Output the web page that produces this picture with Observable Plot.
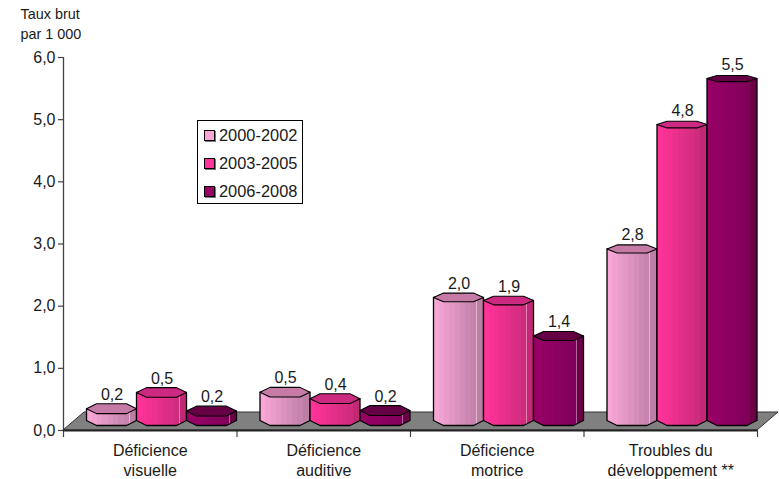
<!DOCTYPE html>
<html lang="fr">
<head>
<meta charset="utf-8">
<title>Taux brut par 1 000</title>
<script src="https://cdn.jsdelivr.net/npm/d3@7"></script>
<script src="https://cdn.jsdelivr.net/npm/@observablehq/plot@0.6"></script>
<style>
html,body{margin:0;padding:0;background:#fff}
#wrap{position:relative;width:779px;height:479px;overflow:hidden;font-family:"Liberation Sans",Arial,sans-serif}
#wrap svg{display:block}
#legend{position:absolute;left:197px;top:120px;width:104px;height:82px;background:#fff;border:1.3px solid #000;color:#1a1a1a;font-size:16.4px}
#legend div{position:absolute;left:21px;line-height:20px;white-space:nowrap}
#legend i{position:absolute;left:-15px;top:5px;width:9px;height:9px;border:1px solid #000;box-shadow:1px 1px 0 #777}
</style>
</head>
<body>
<div id="wrap">
<div id="legend"></div>
</div>
<script>
const categories = ["Déficience\nvisuelle", "Déficience\nauditive", "Déficience\nmotrice", "Troubles du\ndéveloppement **"];
const periods = ["2000-2002", "2003-2005", "2006-2008"];
const values2000 = [0.19, 0.455, 1.98, 2.76];
const values2003 = [0.451, 0.351, 1.93, 4.76];
const values2006 = [0.151, 0.16, 1.36, 5.5];
const yTicks = [0, 1, 2, 3, 4, 5, 6];
const faceLight = ["#f7a6d6", "#ff3399", "#990066"];
const faceDark = ["#c583ad", "#d02c7e", "#80005a"];
const sideColor = ["#bd7ea6", "#c22876", "#6c0047"];
const topColor = ["#c67ba6", "#cc2980", "#660044"];
const series = [values2000, values2003, values2006];

const W = 779, H = 479, ml = 63, mr = 22, mt = 57, mb = 49;
const pxX = 4 / (W - ml - mr), pxY = 6 / (H - mt - mb);
const comma = d3.format(".1f");
const fmt = v => comma(v).replace(".", ",");

const barW = 50 * pxX, barStart = 23.5 * pxX, lift = 9.5 * pxY, frontDrop = 5 * pxY;
const bars = series.flatMap((vals, s) => vals.map((v, c) => {
  const x0 = c + barStart + s * barW, x1 = x0 + barW, chamfer = barW * 0.2;
  return {s, c, v, id: `${s}-${c}`, x0, x1, xa: x0 + chamfer, xb: x1 - chamfer,
          xm: (x0 + x1) / 2, yc: v + lift, hh: (5 - 0.35 * v) * pxY};
}));
const bodyPts = bars.flatMap(b => [
  {id: b.id, s: b.s, c: b.c, x: b.x0, t: b.yc, e: lift},
  {id: b.id, s: b.s, c: b.c, x: b.xa, t: b.yc, e: lift - frontDrop},
  {id: b.id, s: b.s, c: b.c, x: b.xb, t: b.yc, e: lift - frontDrop},
  {id: b.id, s: b.s, c: b.c, x: b.x1, t: b.yc, e: lift}
]);
const topPts = bars.flatMap(b => [
  {id: b.id, s: b.s, c: b.c, x: b.x0, u: b.yc, l: b.yc},
  {id: b.id, s: b.s, c: b.c, x: b.xa, u: b.yc + b.hh, l: b.yc - b.hh},
  {id: b.id, s: b.s, c: b.c, x: b.xb, u: b.yc + b.hh, l: b.yc - b.hh},
  {id: b.id, s: b.s, c: b.c, x: b.x1, u: b.yc, l: b.yc}
]);
const floorDepth = 18 * pxY, floorSkew = 21 * pxX;
const floorPts = [
  {x: 0, a: 0, b: 0},
  {x: floorSkew, a: 0, b: floorDepth},
  {x: 4, a: 0, b: floorDepth},
  {x: 4 + floorSkew, a: floorDepth, b: floorDepth}
];

function gradients() {
  const defs = d3.create("svg:defs");
  faceLight.forEach((light, s) => {
    const g = defs.append("linearGradient").attr("id", `g${s}`).attr("x1", 0).attr("x2", 1).attr("y1", 0).attr("y2", 0);
    const mix = d3.interpolateRgb(light, faceDark[s]);
    const bands = 8, end = 0.85;
    const stop = (o, c) => g.append("stop").attr("offset", o).attr("stop-color", c);
    for (let i = 0; i < bands; i++) {
      const c = mix(i / (bands - 1));
      stop(i / bands * end, c);
      stop((i + 1) / bands * end, c);
    }
    stop(end, d3.interpolateRgb(faceDark[s], "#fff")(0.4));
    stop(end + 0.015, d3.interpolateRgb(faceDark[s], "#fff")(0.4));
    stop(end + 0.015, sideColor[s]);
    stop(1, sideColor[s]);
  });
  return defs.node();
}

const ordered = [];
categories.forEach((_, c) => series.forEach((_, s) => {
  ordered.push(
    Plot.area(bodyPts.filter(d => d.s === s && d.c === c), {x1: "x", y1: "e", y2: "t", z: "id", fill: `url(#g${s})`, stroke: "#000", strokeWidth: 1.3, curve: "linear"}),
    Plot.area(topPts.filter(d => d.s === s && d.c === c), {x1: "x", y1: "l", y2: "u", z: "id", fill: topColor[s], stroke: "#000", strokeWidth: 1.1, curve: "linear"})
  );
}));

const chart = Plot.plot({
  width: W, height: H,
  marginLeft: ml, marginRight: mr, marginTop: mt, marginBottom: mb,
  style: {fontFamily: '"Liberation Sans", Arial, sans-serif', fontSize: "16px", color: "#1a1a1a", background: "#fff"},
  x: {type: "linear", domain: [0, 4], axis: null},
  y: {type: "linear", domain: [0, 6], axis: null},
  marks: [
    gradients,
    Plot.area(floorPts, {x1: "x", y1: "a", y2: "b", fill: "#808080", stroke: "#333", strokeWidth: 1, curve: "linear"}),
    Plot.ruleX([0], {y1: 0, y2: 6, stroke: "#444", strokeWidth: 1.3}),
    Plot.axisY({ticks: yTicks, tickSize: 5, tickFormat: fmt, tickPadding: 3, anchor: "left", stroke: "#444", strokeWidth: 1.2, fill: "#1a1a1a", label: null, fontSize: 16}),
    Plot.axisX({ticks: [0, 1, 2, 3, 4], tickSize: 7, tickFormat: () => "", anchor: "bottom", stroke: "#444", strokeWidth: 1.2, label: null}),
    Plot.ruleY([0], {x1: 0, x2: 4, stroke: "#222", strokeWidth: 2}),
    ...ordered,
    Plot.text(bars, {x: "xm", y: "yc", text: d => fmt(d.v), dy: -14.5, fill: "#1a1a1a", fontSize: 16}),
    Plot.text(categories, {x: (d, i) => i + 0.5, y: 0, text: d => d, dy: 11, lineAnchor: "top", lineHeight: 1.25, fill: "#1a1a1a", fontSize: 16}),
    Plot.text(["Taux brut\npar 1 000"], {frameAnchor: "top-left", dx: -43, dy: -52.5, textAnchor: "start", lineAnchor: "top", lineHeight: 1.39, fill: "#1a1a1a", fontSize: 14.4})
  ]
});
const wrap = document.getElementById("wrap");
wrap.insertBefore(chart, wrap.firstChild);

const legend = document.getElementById("legend");
periods.forEach((p, i) => {
  const row = document.createElement("div");
  row.style.top = (4 + i * 28) + "px";
  row.innerHTML = `<i style="background:${faceLight[i]}"></i>${p}`;
  legend.appendChild(row);
});
</script>
</body>
</html>
